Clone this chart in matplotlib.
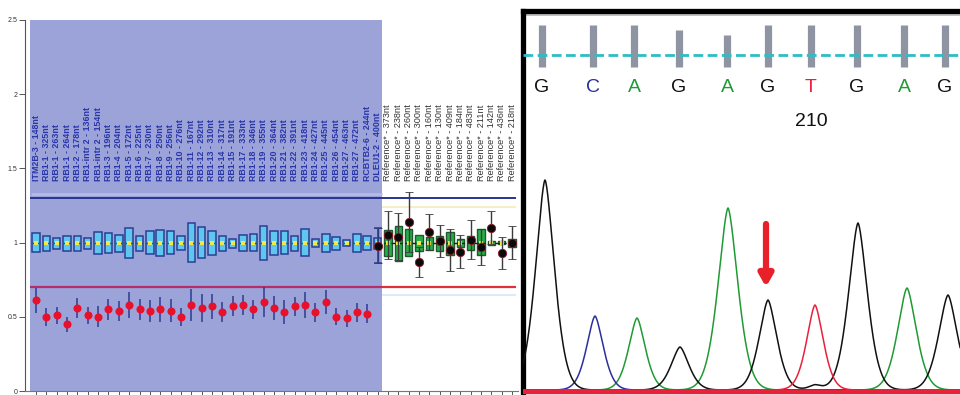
import numpy as np
import matplotlib
matplotlib.use('Agg')
import matplotlib.pyplot as plt

plt.rcParams['font.family'] = ['Liberation Sans', 'DejaVu Sans']

# ---------------- MLPA ratio chart data ----------------
probes = ['ITM2B-3 - 148nt', 'RB1-1 - 325nt', 'RB1-1 - 263nt', 'RB1-1 - 264nt',
          'RB1-2 - 178nt', 'RB1-intr 2 - 136nt', 'RB1-intr 2 - 154nt', 'RB1-3 - 196nt',
          'RB1-4 - 204nt', 'RB1-5 - 172nt', 'RB1-6 - 225nt', 'RB1-7 - 230nt',
          'RB1-8 - 250nt', 'RB1-9 - 256nt', 'RB1-10 - 276nt', 'RB1-11 - 167nt',
          'RB1-12 - 292nt', 'RB1-13 - 310nt', 'RB1-14 - 317nt', 'RB1-15 - 191nt',
          'RB1-17 - 333nt', 'RB1-18 - 346nt', 'RB1-19 - 355nt', 'RB1-20 - 364nt',
          'RB1-21 - 382nt', 'RB1-22 - 391nt', 'RB1-23 - 418nt', 'RB1-24 - 427nt',
          'RB1-25 - 445nt', 'RB1-26 - 454nt', 'RB1-27 - 463nt', 'RB1-27 - 472nt',
          'RCBTB2-6 - 244nt', 'DLEU1-2 - 400nt']
references = ['Reference* - 373nt', 'Reference* - 238nt', 'Reference* - 260nt',
              'Reference* - 300nt', 'Reference* - 160nt', 'Reference* - 130nt',
              'Reference* - 409nt', 'Reference* - 184nt', 'Reference* - 483nt',
              'Reference* - 211nt', 'Reference* - 142nt', 'Reference* - 436nt',
              'Reference* - 218nt']

# control box (reference spread) per probe
box_low = [0.935, 0.946, 0.957, 0.946, 0.946, 0.957, 0.924, 0.930, 0.940, 0.897,
           0.946, 0.924, 0.913, 0.924, 0.953, 0.872, 0.897, 0.919, 0.946, 0.964,
           0.942, 0.942, 0.884, 0.919, 0.924, 0.946, 0.908, 0.968, 0.935, 0.951,
           0.975, 0.935, 0.953, 0.957]
box_high = [1.065, 1.047, 1.031, 1.047, 1.047, 1.034, 1.069, 1.065, 1.054, 1.098,
            1.047, 1.076, 1.087, 1.076, 1.043, 1.132, 1.108, 1.081, 1.047, 1.025,
            1.054, 1.058, 1.114, 1.076, 1.076, 1.047, 1.092, 1.025, 1.058, 1.040,
            1.020, 1.060, 1.043, 1.034]
ref_box_low = [0.913, 0.879, 0.913, 0.942, 0.953, 0.946, 0.919, 0.973, 0.951,
               0.919, 0.987, 0.991, 0.968]
ref_box_high = [1.085, 1.114, 1.092, 1.054, 1.040, 1.047, 1.074, 1.025, 1.047,
                1.092, 1.009, 1.009, 1.025]

# patient sample ratios
deleted_ratio = [0.61, 0.50, 0.51, 0.45, 0.56, 0.51, 0.50, 0.55, 0.54, 0.58, 0.55,
                 0.54, 0.55, 0.54, 0.50, 0.58, 0.56, 0.57, 0.53, 0.57, 0.58, 0.55,
                 0.60, 0.56, 0.53, 0.57, 0.58, 0.53, 0.60, 0.50, 0.49, 0.53, 0.52]
deleted_err = [0.084, 0.060, 0.058, 0.050, 0.065, 0.056, 0.070, 0.070, 0.067, 0.086,
               0.070, 0.076, 0.085, 0.077, 0.060, 0.110, 0.097, 0.086, 0.067, 0.067,
               0.065, 0.064, 0.104, 0.080, 0.080, 0.064, 0.090, 0.064, 0.078, 0.056,
               0.058, 0.066, 0.064]
normal_ratio = [0.98, 1.05, 1.04, 1.14, 0.87, 1.07, 1.01, 0.95, 0.94, 1.02, 0.97,
                1.10, 0.93, 1.00]
normal_err = [0.12, 0.16, 0.16, 0.20, 0.10, 0.12, 0.11, 0.14, 0.11, 0.13, 0.12,
              0.11, 0.105, 0.11]

upper_limit = 1.3
lower_limit = 0.7

# ---------------- chromatogram data ----------------
call_pos = [542, 593, 634, 679, 727, 768, 811, 857, 904, 945]
call_base = ['G', 'C', 'A', 'G', 'A', 'G', 'T', 'G', 'A', 'G']
call_qual = [365, 365, 365, 360, 355, 365, 365, 365, 365, 365]
peak_pos = [545, 595, 637, 680, 728, 768, 815, 858, 907, 948, 815]
peak_base = ['G', 'C', 'A', 'G', 'A', 'G', 'T', 'G', 'A', 'G', 'G']
peak_height = [210, 74, 72, 43, 182, 90, 85, 167, 102, 95, 5]
peak_width = [9.0, 8.0, 8.0, 8.5, 9.5, 8.5, 8.0, 9.0, 9.0, 9.0, 6.0]
mutation_pos = 766
position_label = '210'

base_colors = {'G': '#111111', 'C': '#2b2f9c', 'A': '#1f9a34', 'T': '#e8223a'}

fig = plt.figure(figsize=(9.6, 3.95), dpi=100)

# ======== left: MLPA ratio plot ========
ax = fig.add_axes([25 / 960, 4 / 395, 493 / 960, 371 / 395])
n_p = len(probes)
n_r = len(references)
xp = np.arange(n_p)
xr = np.arange(n_p, n_p + n_r)
ax.set_xlim(-1.063, 46.57)
ax.set_ylim(0, 2.5)

ax.axvspan(-0.58, 33.43, color='#9ba3d8', zorder=0, lw=0)

# faint guide lines
ax.hlines(1.33, -0.5, 33.4, color='#b3bbe6', lw=2, zorder=1)
ax.hlines(1.24, 33.43, 46.4, color='#f3f0c8', lw=1.5, zorder=1)
ax.hlines(0.65, 33.43, 46.4, color='#d9ecf7', lw=1.5, zorder=1)

ax.hlines(upper_limit, -0.55, 46.4, color='#28358f', lw=1.4, zorder=2)
ax.hlines(lower_limit, -0.55, 33.43, color='#b52d6b', lw=1.6, zorder=2)
ax.hlines(lower_limit, 33.43, 46.4, color='#e0303c', lw=1.6, zorder=2)

# boxes
bl = np.array(box_low)
bh = np.array(box_high)
ax.bar(xp, bh - bl, bottom=bl, width=0.72, color='#5fc6ef', edgecolor='#2a3f94',
       lw=1.1, zorder=3)
rl = np.array(ref_box_low)
rh = np.array(ref_box_high)
ax.bar(xr, rh - rl, bottom=rl, width=0.72, color='#27ae48', edgecolor='#1d5a2c',
       lw=1.0, zorder=3)
ax.hlines(np.ones(n_p), xp - 0.36, xp + 0.36, color='#1f6a3a', lw=1.0, zorder=4)
ax.hlines(1.0, n_p - 0.4, n_p + n_r - 0.6, color='#202020', lw=1.0,
          linestyles=(0, (3, 2)), zorder=4)
ax.plot(np.concatenate([xp, xr]), np.ones(n_p + n_r), 's', color='#f2e84a',
        ms=2.2, mew=0, zorder=5)

# sample: deleted probes (red) and normal probes (black)
xd = np.arange(len(deleted_ratio))
ax.errorbar(xd, deleted_ratio, yerr=deleted_err, fmt='o', color='#e8102a',
            ecolor='#2b3b92', elinewidth=1.1, capsize=3.2, capthick=1.1,
            ms=5.8, mew=0, zorder=6)
xn = np.arange(len(deleted_ratio), n_p + n_r)
ax.errorbar(xn, normal_ratio, yerr=normal_err, fmt='o', color='#0a0a0a',
            ecolor='#3a3a3a', elinewidth=1.0, capsize=3.2, capthick=1.0,
            ms=6, mec='#8a1a2a', mew=0.6, zorder=6)
# DLEU1 error bars are blue in the shaded zone
ax.errorbar([xn[0]], [normal_ratio[0]], yerr=[normal_err[0]], fmt='none',
            ecolor='#2b3b92', elinewidth=1.1, capsize=3.2, capthick=1.1, zorder=6)

for i, lab in enumerate(probes):
    ax.text(i, 1.415, lab, rotation=90, ha='center', va='bottom', fontsize=6.4,
            fontweight='bold', color='#2a36a8', zorder=7)
for j, lab in enumerate(references):
    ax.text(n_p + j, 1.415, lab, rotation=90, ha='center', va='bottom',
            fontsize=6.6, color='#333333', zorder=7)

for s in ['top', 'right']:
    ax.spines[s].set_visible(False)
ax.spines['left'].set_color('#555555')
ax.spines['left'].set_linewidth(0.8)
ax.spines['bottom'].set_color('#777777')
ax.spines['bottom'].set_linewidth(0.8)
ax.set_xticks(np.arange(n_p + n_r))
ax.set_xticklabels([])
ax.set_yticks([0, 0.5, 1, 1.5, 2, 2.5])
ax.set_yticklabels(['0', '0.5', '1', '1.5', '2', '2.5'])
ax.tick_params(axis='both', direction='out', length=4, width=0.7,
               color='#555555', labelsize=5, labelcolor='#333333', pad=1.5)

# ======== right: Sanger chromatogram ========
ax2 = fig.add_axes([522.5 / 960, 0, 437.5 / 960, 384.5 / 395])
ax2.set_xlim(522.5, 960)
ax2.set_ylim(-5, 379.5)
ax2.set_facecolor('white')

scan = np.linspace(510, 975, 2000)
for base in ['A', 'C', 'G', 'T']:
    sig = np.zeros_like(scan)
    for p, b, h, w in zip(peak_pos, peak_base, peak_height, peak_width):
        if b == base:
            sig += h * np.exp(-0.5 * (np.abs(scan - p) / w) ** 1.6)
    ax2.plot(scan, sig, color=base_colors[base], lw=1.1, zorder=3)
ax2.axhline(-1.5, color='#e8223a', lw=3.2, zorder=4)

ax2.axhline(375, color='#b5b5b5', lw=1.2, zorder=2)
ax2.vlines(call_pos, 323, call_qual, color='#8e94a2', lw=5.2, zorder=3)
ax2.axhline(335, color='#2fbcc4', lw=2.0, linestyle=(0, (3.5, 1.6)), zorder=4)
for x, b in zip(call_pos, call_base):
    ax2.text(x, 302, b, ha='center', va='center', fontsize=14,
             color=base_colors[b], zorder=5)
ax2.text(call_pos[call_base.index('T')], 268, position_label, ha='center',
         va='center', fontsize=14, color='#111111', zorder=5)

ax2.annotate('', xy=(mutation_pos, 103), xytext=(mutation_pos, 166),
             arrowprops=dict(arrowstyle='-|>,head_width=0.4,head_length=0.7',
                             color='#e8202a', lw=4.5, shrinkA=0, shrinkB=0),
             zorder=6)

for s in ['right', 'bottom']:
    ax2.spines[s].set_visible(False)
ax2.spines['left'].set_linewidth(3.8)
ax2.spines['top'].set_linewidth(3.8)
ax2.spines['left'].set_color('black')
ax2.spines['top'].set_color('black')
ax2.set_xticks([])
ax2.set_yticks([])

fig.savefig('out.png', dpi=100)
